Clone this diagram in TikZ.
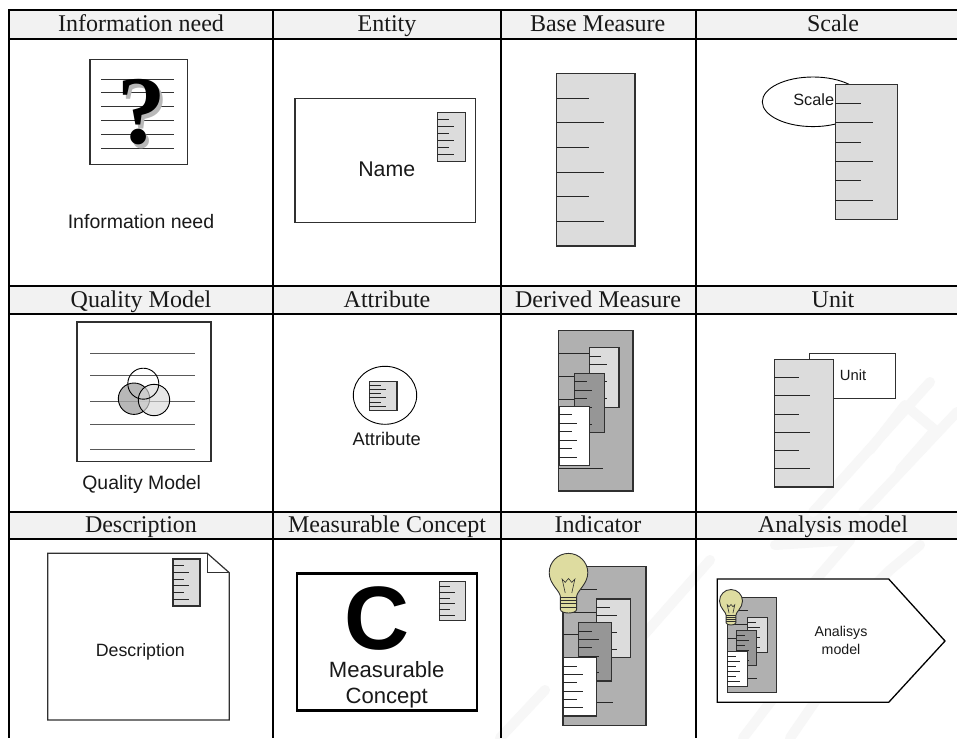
\documentclass[tikz,border=0pt]{standalone}
\usepackage{fontspec}
\setmainfont{Liberation Serif}
\setsansfont{Liberation Sans}
\definecolor{hdr}{HTML}{F2F2F2}
\definecolor{wmk}{HTML}{F7F7F7}
\definecolor{rulerA}{HTML}{DCDCDC}
\definecolor{rulerB}{HTML}{969696}
\definecolor{stackbg}{HTML}{B0B0B0}
\definecolor{bulbc}{HTML}{DEDCA0}
\definecolor{edge}{HTML}{303030}
\tikzset{
  gridline/.style={line width=1.8pt,black},
  box/.style={draw=edge,line width=1.2pt,fill=white},
  tick/.style={line width=.9pt,draw=black!85},
  head/.style={font=\rmfamily\fontsize{24}{24}\selectfont,anchor=base,inner sep=0pt,text=black!90},
  lab/.style={font=\sffamily\fontsize{#1}{#1}\selectfont,anchor=base,inner sep=0pt,text=black!90},
  wm/.style={draw=wmk,line width=10pt,line cap=round,line join=round},
}
% ruler: x0 y0 x1 y1 fill border-width
\newcommand{\ruler}[6]{%
  \draw[draw=edge,line width=#6pt,fill=#5] (#1,#2) rectangle (#3,#4);
  \foreach \i in {1,...,6}{%
    \pgfmathsetmacro{\ty}{#2+(#4-#2)*\i/7}%
    \pgfmathsetmacro{\tl}{ifthenelse(mod(\i,2)==1,0.41,0.60)}%
    \pgfmathsetmacro{\tx}{#1+(#3-#1)*\tl}%
    \draw[tick] (#1,\ty) -- (\tx,\ty);
  }%
}
% bulb: cx cy r
\newcommand{\bulb}[3]{%
  \begin{scope}[shift={(#1,#2)},x=#3pt,y=#3pt]
    \draw[draw=edge,line width=.9pt,fill=bulbc]
      (-.42,1.9) -- (-.42,1.25) .. controls (-.42,.95) and (-1,.6) .. (-1,0)
      .. controls (-1,-.55) and (-.55,-1) .. (0,-1)
      .. controls (.55,-1) and (1,-.55) .. (1,0)
      .. controls (1,.6) and (.42,.95) .. (.42,1.25) -- (.42,1.9)
      .. controls (.42,2.15) and (-.42,2.15) .. (-.42,1.9) -- cycle;
    \draw[line width=.6pt,draw=edge] (-.17,1.05) -- (-.33,.33) -- (-.17,.5) -- (0,.3) -- (.17,.5) -- (.33,.33) -- (.17,1.05);
    \foreach \q in {1.25,1.43,1.61,1.79}{\draw[line width=.6pt,draw=edge] (-.42,\q) -- (.42,\q);}
  \end{scope}%
}
\begin{document}
\begin{tikzpicture}[x=1pt,y=1pt,yscale=-1]
\useasboundingbox (0,0) rectangle (957,738);
\fill[white] (0,0) rectangle (957,738);
% header bands
\fill[hdr] (9,10) rectangle (957,39);
\fill[hdr] (9,286) rectangle (957,314);
\fill[hdr] (9,512) rectangle (957,539);
% watermark
\draw[wm] (813,512) -- (930,382);
\draw[wm] (863,512) -- (957,412);
\draw[wm] (870,450) -- (905,405) -- (935,430) -- (900,470);
\draw[wm] (710,560) -- (613,670);
\draw[wm] (800,663) -- (743,738);
\draw[wm] (823,690) -- (790,738);
\draw[wm] (775,545) -- (850,540) -- (790,610);
\draw[wm] (850,610) -- (890,570) -- (920,545);
\draw[wm] (590,710) -- (640,660);
\draw[wm] (500,738) -- (545,690);
% grid
\foreach \gy in {10.3,38.7,285.7,314.3,511.7,539.3}{\draw[gridline] (8.3,\gy) -- (957,\gy);}
\foreach \gx in {9,273,500.7,696}{\draw[gridline] (\gx,9.6) -- (\gx,738);}
% headers
\node[head] (h11) at (141,31.7) {Information need};
\node[head] (h12) at (387,31.7) {Entity};
\node[head] (h13) at (597.7,31.7) {Base Measure};
\node[head] (h14) at (833,31.7) {Scale};
\node[head] (h21) at (141,307.7) {Quality Model};
\node[head] (h22) at (387,307.7) {Attribute};
\node[head] (h23) at (598,307.7) {Derived Measure};
\node[head] (h24) at (833,307.7) {Unit};
\node[head] (h31) at (141,532.7) {Description};
\node[head] (h32) at (387,532.7) {Measurable Concept};
\node[head] (h33) at (598,532.7) {Indicator};
\node[head] (h34) at (833,532.7) {Analysis model};
% Information need
\draw[box] (90,59.3) rectangle (187.3,164.7);
\foreach \ly in {79.3,92.3,106.3,120.3,134.3,148.3}{\draw[line width=.7pt,black!80] (101.3,\ly) -- (174.3,\ly);}
\node[font=\rmfamily\bfseries\fontsize{97}{97}\selectfont,text=black!28,anchor=base,inner sep=0pt] (qshadow) at (145,147.5) {?};
\node[font=\rmfamily\bfseries\fontsize{97}{97}\selectfont,text=black,anchor=base,inner sep=0pt] (qmark) at (141.5,144) {?};
\node[lab=19.5] (t11) at (141,228.3) {Information need};
% Entity
\draw[box] (295,98.7) rectangle (475.7,222.3);
\ruler{437.7}{112.7}{465.3}{161.3}{rulerA}{1.2}
\node[lab=21.3] (t12) at (386.7,176.7) {Name};
% Base Measure
\ruler{556.7}{73.7}{635}{246}{rulerA}{1.2}
% Scale
\draw[line width=.9pt,draw=black,fill=white] (813,101.8) ellipse[x radius=50.7,y radius=24.8];
\node[lab=16.3] (t14) at (813.7,106) {Scale};
\ruler{835.3}{84.3}{897.7}{219.3}{rulerA}{1.2}
% Quality Model
\draw[box] (77,322) rectangle (211,461.7);
\foreach \ly in {353,375.7,401,424,449}{\draw[line width=.9pt,black!65] (90.3,\ly) -- (195.3,\ly);}
\draw[line width=.9pt,fill=black!35,fill opacity=.8] (134,398.7) circle[radius=15.7];
\draw[line width=.9pt,fill=black!15,fill opacity=.65] (154,400) circle[radius=15.7];
\draw[line width=.9pt] (143.3,383.7) circle[radius=15.5];
\node[lab=19.4] (t21) at (141.7,489) {Quality Model};
% Attribute
\draw[line width=.9pt,draw=black,fill=white] (385,395.3) ellipse[x radius=31.7,y radius=29];
\ruler{369.3}{381.3}{397}{410.3}{rulerA}{1.2}
\node[lab=18.3] (t22) at (386.7,445.3) {Attribute};
% Derived Measure
\ruler{558.7}{330.3}{633}{491}{stackbg}{1.2}
\ruler{589.3}{347.7}{619}{407.3}{rulerA}{1.2}
\ruler{574.3}{373.3}{604.3}{432.7}{rulerB}{1.2}
\ruler{559.3}{406.3}{589.3}{465.7}{white}{1.2}
% Unit
\draw[box] (809.7,353.3) rectangle (895.3,398.7);
\node[lab=14.8] (t24) at (853,380.7) {Unit};
\ruler{774.3}{359.3}{833.7}{487}{rulerA}{1.2}
% Description
\draw[box] (47.7,553.3) -- (207.3,553.3) -- (229.3,572.7) -- (229.3,720) -- (47.7,720) -- cycle;
\draw[draw=edge,line width=.9pt] (207.3,553.3) -- (207.3,572.7) -- (229.3,572.7);
\ruler{172.7}{558.7}{200}{606.3}{rulerA}{1.8}
\node[lab=17.8] (t31) at (140.3,656) {Description};
% Measurable Concept
\draw[draw=black,line width=2.4pt,fill=white] (297,573.3) rectangle (477,710.3);
\ruler{439.3}{581.3}{465.7}{620.7}{rulerA}{.9}
\node[font=\sffamily\bfseries\fontsize{90}{90}\selectfont,anchor=base,inner sep=0pt,text=black] (bigc) at (376.7,649.5) {C};
\node[lab=22.1] (t32a) at (386.7,677) {Measurable};
\node[lab=22.1] (t32b) at (386.7,703.3) {Concept};
% Indicator
\ruler{563}{566.7}{646}{725.3}{stackbg}{1.2}
\ruler{596.3}{599}{630.3}{657.7}{rulerA}{1.2}
\ruler{578.7}{622.7}{611.7}{681}{rulerB}{1.2}
\ruler{563}{657.7}{596.3}{716}{white}{1.2}
\bulb{568.5}{572.7}{19.3}
% Analysis model
\draw[draw=black,line width=1.3pt,fill=white] (717.3,579) -- (888.7,579) -- (945,641) -- (888.7,702.3) -- (717.3,702.3) -- cycle;
\ruler{727.3}{597.3}{776.7}{692.3}{stackbg}{.9}
\ruler{747.7}{617}{767.7}{652.3}{rulerA}{.9}
\ruler{736.3}{630.7}{756.7}{665.7}{rulerB}{.9}
\ruler{727.3}{651.7}{747.7}{686.7}{white}{.9}
\bulb{731}{601}{11.5}
\node[lab=14.2] (t34a) at (841,636.7) {Analisys};
\node[lab=14.2] (t34b) at (841,654.3) {model};
\end{tikzpicture}
\end{document}
